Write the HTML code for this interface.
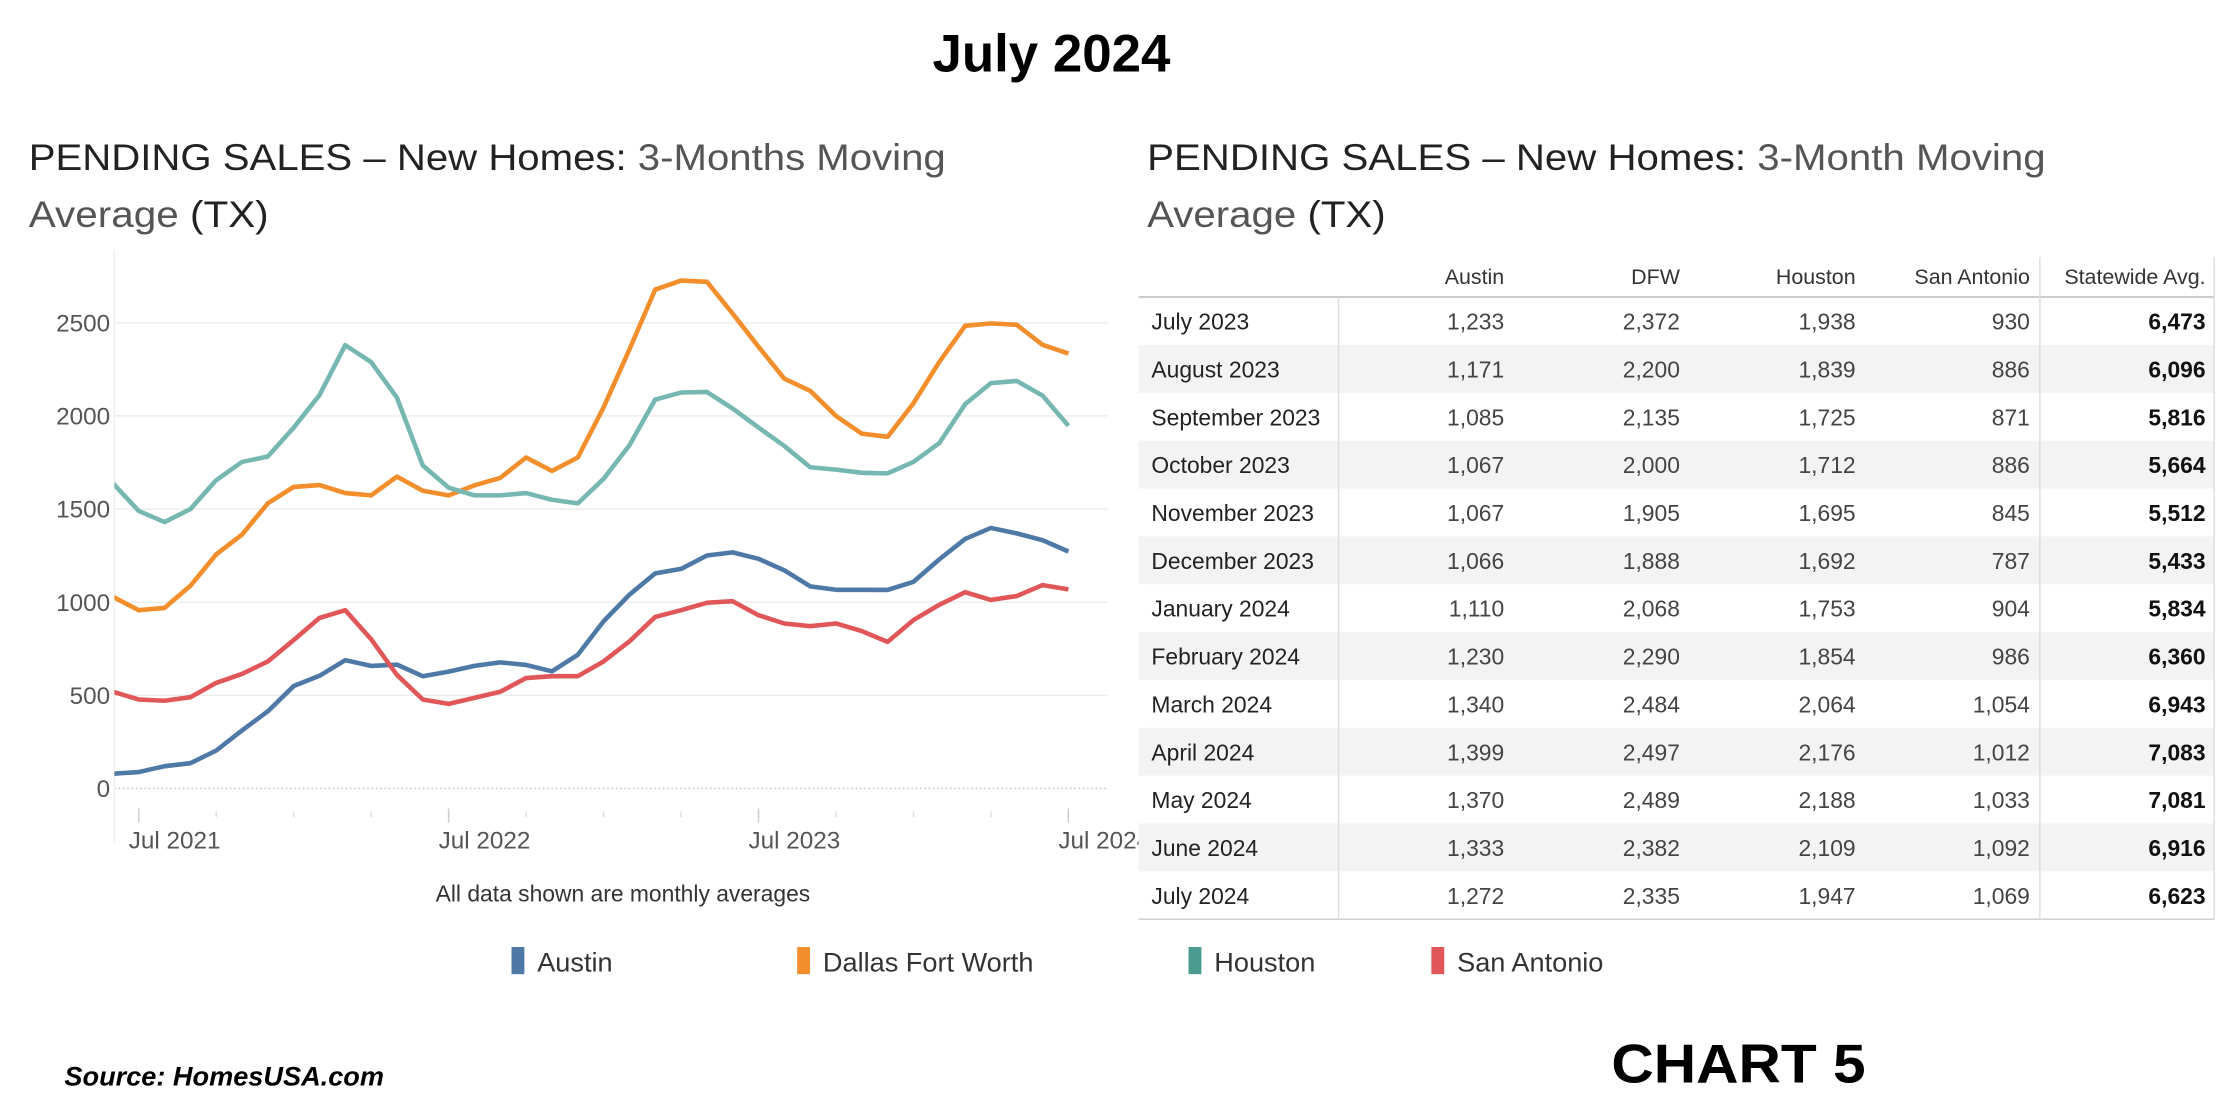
<!DOCTYPE html>
<html><head><meta charset="utf-8"><style>
html,body{margin:0;padding:0;background:#fff;width:2240px;height:1107px;overflow:hidden}
text{font-family:"Liberation Sans Narrow","Liberation Sans",sans-serif}
</style></head><body>
<svg id="root" width="2240" height="1107" viewBox="0 0 1568 775" xmlns="http://www.w3.org/2000/svg">
<rect width="1568" height="775" fill="#fff"/>
<text x="736" y="50" text-anchor="middle" font-size="37" font-weight="bold" fill="#000" style="font-family:'Liberation Sans',sans-serif">July 2024</text>
<g font-size="26" fill="#222">
<text x="20" y="119" textLength="642" lengthAdjust="spacingAndGlyphs">PENDING SALES – New Homes: <tspan fill="#555">3-Months  Moving</tspan></text>
<text x="20" y="159" textLength="168" lengthAdjust="spacingAndGlyphs"><tspan fill="#555">Average</tspan> (TX)</text>
</g>
<g font-size="26" fill="#222">
<text x="803" y="119" textLength="629" lengthAdjust="spacingAndGlyphs">PENDING SALES – New Homes:  <tspan fill="#555">3-Month Moving</tspan></text>
<text x="803" y="159" textLength="167" lengthAdjust="spacingAndGlyphs"><tspan fill="#555">Average</tspan> (TX)</text>
</g>
<g id="chart"></g>
<text x="436" y="631" text-anchor="middle" font-size="16" fill="#333">All data shown are monthly averages</text>
<g id="legend"></g>
<g id="table"></g>
<text x="45" y="760" font-size="19" font-weight="bold" font-style="italic" fill="#000" style="font-family:'Liberation Sans',sans-serif">Source: HomesUSA.com</text>
<text x="1128" y="758" font-size="38" font-weight="bold" fill="#000" textLength="178" lengthAdjust="spacingAndGlyphs" style="font-family:'Liberation Sans Narrow','Liberation Sans',sans-serif">CHART 5</text>
</svg>
<script>
// months from Jun 2021 (index -1) to Jul 2024 (index 36)
const startMonth = -1;
const austin = [79,88,120,136,203,311,414,550,605,689,658,665,603,627,658,677,663,629,718,897,1040,1155,1179,1251,1268,1233,1171,1085,1067,1067,1066,1110,1230,1340,1399,1370,1333,1272];
const dfw = [1029,957,969,1088,1256,1363,1531,1619,1629,1586,1574,1674,1598,1574,1627,1667,1777,1705,1777,2045,2356,2679,2727,2720,2550,2372,2200,2135,2000,1905,1888,2068,2290,2484,2497,2489,2382,2335];
const houston = [1639,1490,1430,1500,1655,1753,1782,1937,2112,2380,2289,2098,1734,1615,1574,1574,1586,1550,1531,1662,1842,2088,2126,2129,2040,1938,1839,1725,1712,1695,1692,1753,1854,2064,2176,2188,2109,1947];
const sanAntonio = [519,478,471,490,567,615,682,797,916,957,801,610,478,454,486,519,593,603,603,682,789,921,957,997,1005,930,886,871,886,845,787,904,986,1054,1012,1033,1092,1069];
const yTicks = [0,500,1000,1500,2000,2500];
const xTickLabels = ["Jul 2021","Jul 2022","Jul 2023","Jul 2024"];
const xTickMonths = [0,12,24,36];
const seriesNames = ["Austin","Dallas Fort Worth","Houston","San Antonio"];
const seriesColors = ["#4e79a7","#f28e2b","#76b7b2","#e15759"];
const legendColors = ["#4e79a7","#f28e2b","#4a9a8f","#e15759"];

const tableCols = ["Austin","DFW","Houston","San Antonio","Statewide Avg."];
const tableRows = ["July 2023","August 2023","September 2023","October 2023","November 2023","December 2023","January 2024","February 2024","March 2024","April 2024","May 2024","June 2024","July 2024"];
const tAustin = ["1,233","1,171","1,085","1,067","1,067","1,066","1,110","1,230","1,340","1,399","1,370","1,333","1,272"];
const tDfw = ["2,372","2,200","2,135","2,000","1,905","1,888","2,068","2,290","2,484","2,497","2,489","2,382","2,335"];
const tHouston = ["1,938","1,839","1,725","1,712","1,695","1,692","1,753","1,854","2,064","2,176","2,188","2,109","1,947"];
const tSa = ["930","886","871","886","845","787","904","986","1,054","1,012","1,033","1,092","1,069"];
const tState = ["6,473","6,096","5,816","5,664","5,512","5,433","5,834","6,360","6,943","7,083","7,081","6,916","6,623"];

const NS="http://www.w3.org/2000/svg";
function mk(tag, attrs, parent){const e=document.createElementNS(NS,tag);for(const k in attrs)e.setAttribute(k,attrs[k]);parent.appendChild(e);return e;}
const X0=97, MW=18.08, Y0=552, YK=326/2500;
const xs=m=>X0+m*MW, ys=v=>Y0-v*YK;
const chart=document.getElementById('chart');
mk('clipPath',{id:'pc'},chart).appendChild((()=>{const r=document.createElementNS(NS,'rect');r.setAttribute('x',80);r.setAttribute('y',170);r.setAttribute('width',700);r.setAttribute('height',420);return r;})());
yTicks.forEach(v=>{
  const g=mk('line',{x1:80,x2:775,y1:ys(v),y2:ys(v),stroke:v===0?'#bbb':'#ececec','stroke-width':1,'stroke-dasharray':v===0?'1,2':''},chart);
  
  
  const t=mk('text',{x:77,y:ys(v)+6,'text-anchor':'end','font-size':17,fill:'#555'},chart);
  
  
  t.textContent=v;
});
mk('line',{x1:80,x2:80,y1:175,y2:590,stroke:'#f0f0f0'},chart);
for(let m=0;m<=37;m+=3){mk('line',{x1:xs(m),x2:xs(m),y1:568,y2:572,stroke:'#ddd'},chart);}
xTickLabels.forEach((lab,i)=>{
  mk('line',{x1:xs(xTickMonths[i]),x2:xs(xTickMonths[i]),y1:566,y2:576,stroke:'#ccc'},chart);
  const t=mk('text',{x:xs(xTickMonths[i])-7,y:594,'font-size':17,fill:'#555'},chart);
  
  
  t.textContent=lab;
});
[austin,dfw,houston,sanAntonio].forEach((arr,si)=>{
  const pts=arr.map((v,i)=>xs(startMonth+i).toFixed(1)+','+ys(v).toFixed(1)).join(' ');
  const p=mk('polyline',{points:pts,fill:'none',stroke:seriesColors[si],'stroke-width':3.2,'stroke-linejoin':'round','clip-path':'url(#pc)'},chart);
  
  
});
const legend=document.getElementById('legend');
const lx=[358,558,832,1002];
seriesNames.forEach((n,i)=>{
  const r=mk('rect',{x:lx[i],y:663,width:9,height:19,fill:legendColors[i]},legend);
  
  
  const t=mk('text',{x:lx[i]+18,y:680,'font-size':19,fill:'#333'},legend);
  
  
  t.textContent=n;
});
const table=document.getElementById('table');
const colR=[1053,1176,1299,1421,1544];
const RY=208, RH=33.5;
tableRows.forEach((r,i)=>{
  if(i%2===1){mk('rect',{x:797,y:RY+i*RH,width:753,height:RH,fill:'#f3f3f3'},table);}
});
mk('line',{x1:797,x2:1550,y1:RY,y2:RY,stroke:'#ccc','stroke-width':1.5},table);
mk('line',{x1:797,x2:1550,y1:RY+13*RH,y2:RY+13*RH,stroke:'#ccc','stroke-width':1},table);
mk('line',{x1:937,x2:937,y1:RY,y2:RY+13*RH,stroke:'#ddd'},table);
mk('line',{x1:1428,x2:1428,y1:180,y2:RY+13*RH,stroke:'#ddd'},table);
mk('line',{x1:1550,x2:1550,y1:180,y2:RY+13*RH,stroke:'#ddd'},table);
tableCols.forEach((c,j)=>{
  const t=mk('text',{x:colR[j],y:199,'text-anchor':'end','font-size':15,fill:'#333'},table);
  
  
  t.textContent=c;
});
const cols=[tAustin,tDfw,tHouston,tSa,tState];
tableRows.forEach((r,i)=>{
  const cy=RY+i*RH+RH/2+6;
  const t=mk('text',{x:806,y:cy,'font-size':16,fill:'#222'},table);
  
  
  t.textContent=r;
  cols.forEach((col,j)=>{
    const c=mk('text',{x:colR[j],y:cy,'text-anchor':'end','font-size':16,fill:j===4?'#111':'#444','font-weight':j===4?'bold':'normal'},table);
    
    
    c.textContent=col[i];
  });
});
</script>
</body></html>
